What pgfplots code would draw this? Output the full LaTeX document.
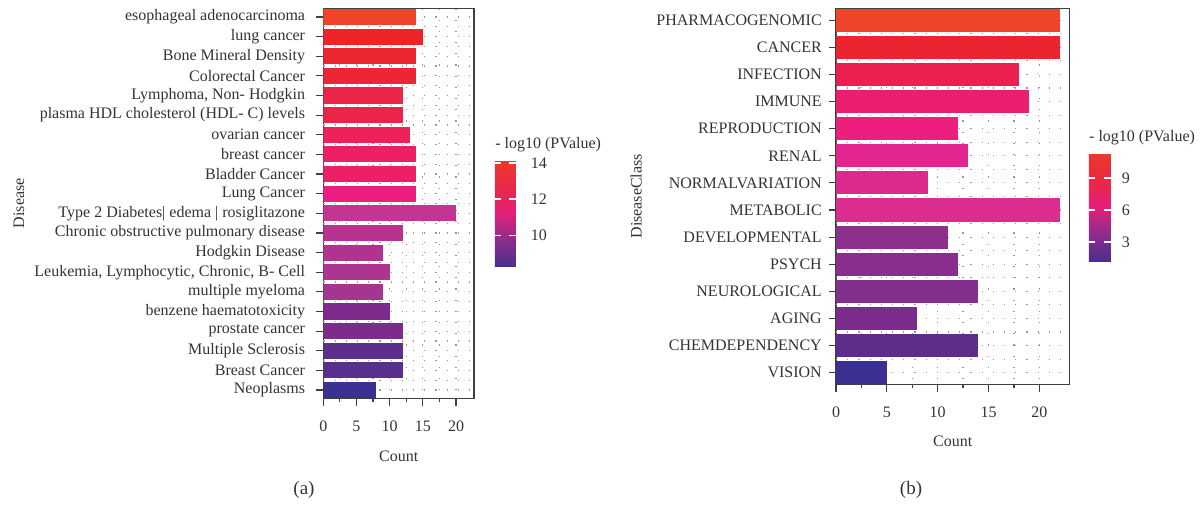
\documentclass[border=0pt]{standalone}
\usepackage{fontspec}
\setmainfont{Liberation Serif}
\usepackage{pgfplots}
\pgfplotsset{compat=1.18}

\definecolor{txt}{HTML}{333333}
\definecolor{axc}{HTML}{404040}

% bar colours, panel (a) top to bottom
\definecolor{a1}{HTML}{EE4429}
\definecolor{a2}{HTML}{EE2428}
\definecolor{a3}{HTML}{EC2630}
\definecolor{a4}{HTML}{EC2632}
\definecolor{a5}{HTML}{EC2448}
\definecolor{a6}{HTML}{EC2449}
\definecolor{a7}{HTML}{EC2258}
\definecolor{a8}{HTML}{EC2063}
\definecolor{a9}{HTML}{EC2068}
\definecolor{a10}{HTML}{EC1F80}
\definecolor{a11}{HTML}{C23590}
\definecolor{a12}{HTML}{B83390}
\definecolor{a13}{HTML}{B13390}
\definecolor{a14}{HTML}{AC3590}
\definecolor{a15}{HTML}{A53590}
\definecolor{a16}{HTML}{7C2A8B}
\definecolor{a17}{HTML}{7B2C8C}
\definecolor{a18}{HTML}{5D2E8C}
\definecolor{a19}{HTML}{592F8D}
\definecolor{a20}{HTML}{3B3192}
% panel (b)
\definecolor{b1}{HTML}{EE4429}
\definecolor{b2}{HTML}{EC2430}
\definecolor{b3}{HTML}{EC2050}
\definecolor{b4}{HTML}{EC1E70}
\definecolor{b5}{HTML}{EC1F7E}
\definecolor{b6}{HTML}{E22590}
\definecolor{b7}{HTML}{DB2A8E}
\definecolor{b8}{HTML}{DB2C8F}
\definecolor{b9}{HTML}{8E2F8E}
\definecolor{b10}{HTML}{8A2E8E}
\definecolor{b11}{HTML}{832F8E}
\definecolor{b12}{HTML}{7A2B8C}
\definecolor{b13}{HTML}{5E2D8C}
\definecolor{b14}{HTML}{3B3192}

\newcommand{\fs}{\fontsize{8}{9.6}\selectfont}

\pgfplotsset{
  colormap={pv}{rgb255=(74,46,140) rgb255=(140,45,140) rgb255=(228,32,122) rgb255=(234,40,70) rgb255=(234,58,42)},
  panel/.style={
    scale only axis,
    y dir=reverse,
    xmin=0,
    xtick={0,5,10,15,20},
    minor x tick num=1,
    tick align=outside,
    xtick pos=bottom, ytick pos=left,
    major tick length=3.6pt, minor tick length=2pt,
    grid=both,
    major grid style={gray!80, line width=0.6pt, dash pattern=on 0.6pt off 5pt},
    minor grid style={gray!80, line width=0.6pt, dash pattern=on 0.6pt off 5pt},
    extra y tick style={grid=major, major tick length=0pt},
    axis line style={axc, line width=0.8pt},
    tick style={axc, line width=0.6pt},
    every tick label/.append style={txt, font=\fs},
    label style={txt, font=\fs},
    /pgf/number format/assume math mode=true,
    xticklabel style={yshift=-4.3pt},
    xlabel=Count,
    colorbar, colormap name=pv,
  },
  % the colorbar keeps its own 0.3cm xshift, so the shifts below add to it
  cbar/.style={
    scale only axis,
    at={(parent axis.north east)}, anchor=north west,
    axis line style={draw=none},
    xtick=\empty,
    tick align=inside,
    ytick pos=both, yticklabel pos=right,
    major tick length=3.3pt,
    ytick style={draw=white, line width=0.8pt},
    yticklabel style={txt, font=\fs},
    /pgf/number format/assume math mode=true,
    title={- log10 (PValue)},
    title style={at={(0,1)}, anchor=base west, yshift=0pt, inner sep=0pt, txt, font=\fs},
  },
  hb/.style={xbar, bar shift=0pt, draw=none, fill=#1},
}

\begin{document}
\begin{tikzpicture}
\useasboundingbox (0,0) rectangle (601pt,-252pt);

% ---------------- panel (a) ----------------
\begin{axis}[
  panel,
  at={(161.65pt,-4.15pt)}, anchor=north west,
  width=75.35pt, height=195pt,
  xmax=22.7,
  ymin=-0.44, ymax=19.42,
  bar width=0.82,
  ytick={0,...,19},
  extra y ticks={0.5,1.5,...,18.5},
  extra y tick labels={},
  yticklabel style={xshift=-2pt},
  yticklabels={esophageal adenocarcinoma, lung cancer, Bone Mineral Density,
    Colorectal Cancer, {Lymphoma, Non- Hodgkin}, plasma HDL cholesterol (HDL- C) levels,
    ovarian cancer, breast cancer, Bladder Cancer, Lung Cancer,
    Type 2 Diabetes| edema | rosiglitazone, Chronic obstructive pulmonary disease,
    Hodgkin Disease, {Leukemia, Lymphocytic, Chronic, B- Cell}, multiple myeloma,
    benzene haematotoxicity, prostate cancer, Multiple Sclerosis, Breast Cancer, Neoplasms},
  ylabel=Disease,
  ylabel style={at={(axis description cs:-2.02,0.5)}, anchor=center},
  xlabel style={at={(axis description cs:0.5,-0.149)}, anchor=center},
  point meta min=8.3, point meta max=14.15,
  colorbar style={cbar, width=10.5pt, height=53pt, xshift=1.9pt, yshift=-76pt,
    ytick={10,12,14}, yticklabel style={xshift=4pt}},
]
\addplot[hb=a1]  coordinates {(14,0)};
\addplot[hb=a2]  coordinates {(15,1)};
\addplot[hb=a3]  coordinates {(14,2)};
\addplot[hb=a4]  coordinates {(14,3)};
\addplot[hb=a5]  coordinates {(12,4)};
\addplot[hb=a6]  coordinates {(12,5)};
\addplot[hb=a7]  coordinates {(13,6)};
\addplot[hb=a8]  coordinates {(14,7)};
\addplot[hb=a9]  coordinates {(14,8)};
\addplot[hb=a10] coordinates {(14,9)};
\addplot[hb=a11] coordinates {(20,10)};
\addplot[hb=a12] coordinates {(12,11)};
\addplot[hb=a13] coordinates {(9,12)};
\addplot[hb=a14] coordinates {(10,13)};
\addplot[hb=a15] coordinates {(9,14)};
\addplot[hb=a16] coordinates {(10,15)};
\addplot[hb=a17] coordinates {(12,16)};
\addplot[hb=a18] coordinates {(12,17)};
\addplot[hb=a19] coordinates {(12,18)};
\addplot[hb=a20] coordinates {(8,19)};
\end{axis}

% ---------------- panel (b) ----------------
\begin{axis}[
  panel,
  at={(418pt,-4.15pt)}, anchor=north west,
  width=116.65pt, height=188pt,
  xmax=22.95,
  ymin=-0.44, ymax=13.43,
  bar width=0.85,
  ytick={0,...,13},
  extra y ticks={0.5,1.5,...,12.5},
  extra y tick labels={},
  yticklabels={PHARMACOGENOMIC, CANCER, INFECTION, IMMUNE, REPRODUCTION, RENAL,
    NORMALVARIATION, METABOLIC, DEVELOPMENTAL, PSYCH, NEUROLOGICAL, AGING,
    CHEMDEPENDENCY, VISION},
  ylabel=DiseaseClass,
  ylabel style={at={(axis description cs:-0.857,0.5)}, anchor=center},
  xlabel style={at={(axis description cs:0.5,-0.152)}, anchor=center},
  point meta min=1.2, point meta max=11.3,
  colorbar style={cbar, width=11pt, height=54pt, xshift=1.2pt, yshift=-72.5pt,
    ytick={3,6,9}, yticklabel style={xshift=2pt}},
]
\addplot[hb=b1]  coordinates {(22,0)};
\addplot[hb=b2]  coordinates {(22,1)};
\addplot[hb=b3]  coordinates {(18,2)};
\addplot[hb=b4]  coordinates {(19,3)};
\addplot[hb=b5]  coordinates {(12,4)};
\addplot[hb=b6]  coordinates {(13,5)};
\addplot[hb=b7]  coordinates {(9,6)};
\addplot[hb=b8]  coordinates {(22,7)};
\addplot[hb=b9]  coordinates {(11,8)};
\addplot[hb=b10] coordinates {(12,9)};
\addplot[hb=b11] coordinates {(14,10)};
\addplot[hb=b12] coordinates {(8,11)};
\addplot[hb=b13] coordinates {(14,12)};
\addplot[hb=b14] coordinates {(5,13)};
\end{axis}

\node[txt, font=\fontsize{9.5}{11}\selectfont] at (152pt,-245pt) {(a)};
\node[txt, font=\fontsize{9.5}{11}\selectfont] at (455.5pt,-245pt) {(b)};
\end{tikzpicture}
\end{document}
